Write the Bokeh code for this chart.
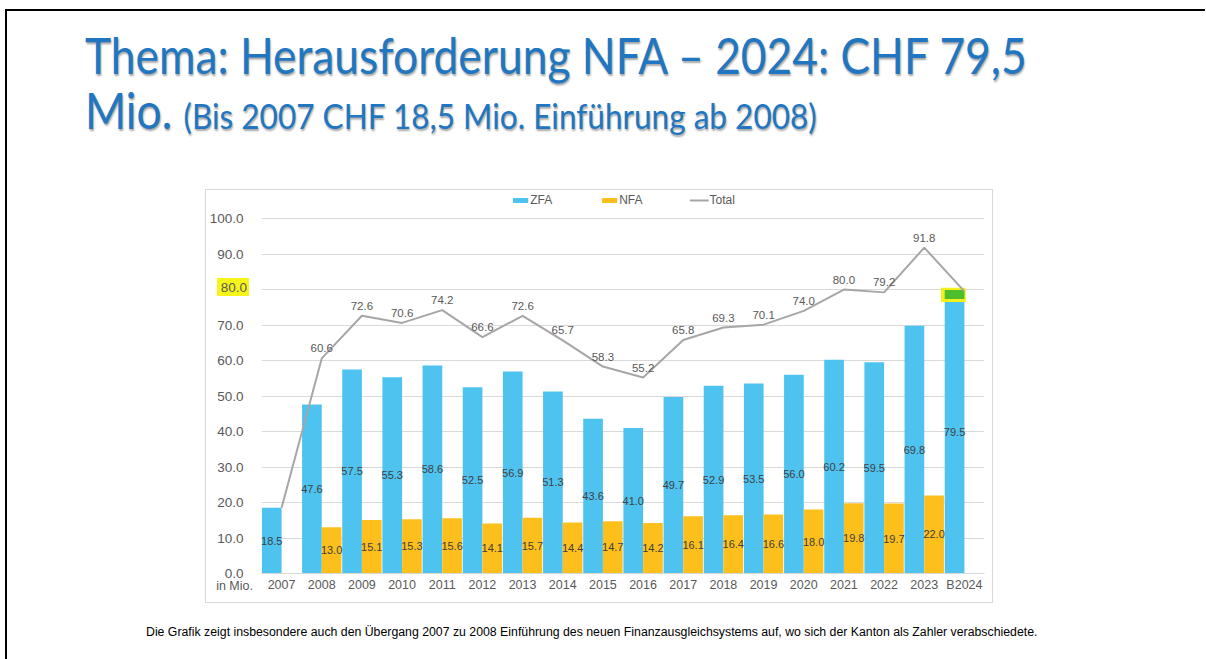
from bokeh.plotting import figure
from bokeh.models import (FactorRange, ColumnDataSource, Legend, LegendItem, Div,
                          Spacer, SingleIntervalTicker, NumeralTickFormatter)
from bokeh.layouts import column, row
from bokeh.transform import dodge
from bokeh.core.properties import value
from bokeh.embed import file_html
from bokeh.resources import INLINE

# ---------------- data ----------------
years = ["2007", "2008", "2009", "2010", "2011", "2012", "2013", "2014", "2015",
         "2016", "2017", "2018", "2019", "2020", "2021", "2022", "2023", "B2024"]
zfa = [18.5, 47.6, 57.5, 55.3, 58.6, 52.5, 56.9, 51.3, 43.6,
       41.0, 49.7, 52.9, 53.5, 56.0, 60.2, 59.5, 69.8, 79.5]
nfa = [None, 13.0, 15.1, 15.3, 15.6, 14.1, 15.7, 14.4, 14.7,
       14.2, 16.1, 16.4, 16.6, 18.0, 19.8, 19.7, 22.0, None]
total = [18.5, 60.6, 72.6, 70.6, 74.2, 66.6, 72.6, 65.7, 58.3,
         55.2, 65.8, 69.3, 70.1, 74.0, 80.0, 79.2, 91.8, 79.5]
total_labelled = [False] + [True] * 16 + [False]
highlight_tick = 80
unit_label = "in Mio."

C_ZFA = "#4ec3f0"
C_NFA = "#fdbf1c"
C_TOT = "#a6a6a6"
C_TXT = "#595959"
FONT = "Liberation Sans"

zsrc = ColumnDataSource(dict(years=years, zfa=zfa, mid=[v / 2 for v in zfa],
                             lbl=[f"{v:.1f}" for v in zfa]))
ny = [y for y, v in zip(years, nfa) if v is not None]
nv = [v for v in nfa if v is not None]
nsrc = ColumnDataSource(dict(years=ny, nfa=nv, mid=[v / 2 for v in nv],
                             lbl=[f"{v:.1f}" for v in nv]))
tsrc = ColumnDataSource(dict(years=years, total=total))
ty = [y for y, f in zip(years, total_labelled) if f]
tv = [v for v, f in zip(total, total_labelled) if f]
tlsrc = ColumnDataSource(dict(years=ty, total=tv, lbl=[f"{v:.1f}" for v in tv]))

last = years[-1]
hsrc = ColumnDataSource(dict(years=[last], top=[zfa[-1] + 1.0], bottom=[zfa[-1] - 3.0]))
gsrc = ColumnDataSource(dict(years=[last], top=[zfa[-1] + 0.4], bottom=[zfa[-1] - 2.2]))

p = figure(x_range=FactorRange(factors=years, range_padding=0), y_range=(0, 107.9),
           width=788, height=414, output_backend="svg", toolbar_location=None,
           min_border_left=48, min_border_right=10, min_border_top=0, min_border_bottom=31)
p.outline_line_color = None
p.background_fill_color = "white"
p.border_fill_color = "white"
p.styles = {"border": "1px solid #d9d9d9"}

W = 0.49
r_z = p.vbar(x=dodge("years", -0.245, range=p.x_range), top="zfa", width=W,
             source=zsrc, fill_color=C_ZFA, line_color=None)
r_n = p.vbar(x=dodge("years", 0.245, range=p.x_range), top="nfa", width=W,
             source=nsrc, fill_color=C_NFA, line_color=None)
p.vbar(x=dodge("years", -0.275, range=p.x_range), top="top", bottom="bottom", width=0.62,
       source=hsrc, fill_color="#f2f21a", line_color=None)
p.vbar(x=dodge("years", -0.245, range=p.x_range), top="top", bottom="bottom", width=W,
       source=gsrc, fill_color="#4cbd2c", line_color=None)

p.text(x=dodge("years", -0.245, range=p.x_range), y="mid", text="lbl", source=zsrc,
       text_font=value(FONT), text_font_size="11px", text_color="#404040",
       text_align="center", text_baseline="middle")
p.text(x=dodge("years", 0.245, range=p.x_range), y="mid", text="lbl", source=nsrc,
       text_font=value(FONT), text_font_size="11px", text_color="#404040",
       text_align="center", text_baseline="middle")

r_t = p.line(x="years", y="total", source=tsrc, line_color=C_TOT, line_width=2)
p.text(x="years", y="total", text="lbl", source=tlsrc, y_offset=-6,
       text_font=value(FONT), text_font_size="11.5px", text_color=C_TXT,
       text_align="center", text_baseline="bottom")

p.xgrid.grid_line_color = None
p.ygrid.grid_line_color = "#d9d9d9"
p.yaxis.ticker = SingleIntervalTicker(interval=10)
p.yaxis.formatter = NumeralTickFormatter(format="0.0")
p.yaxis.major_label_overrides = {highlight_tick: ""}
for ax in (p.xaxis, p.yaxis):
    ax.major_tick_line_color = None
    ax.minor_tick_line_color = None
    ax.major_label_text_font = FONT
    ax.major_label_text_color = C_TXT
p.yaxis.axis_line_color = None
p.yaxis.major_label_text_font_size = "13.5px"
p.yaxis.major_label_standoff = 12
p.xaxis.axis_line_color = "#d9d9d9"
p.xaxis.major_label_text_font_size = "12.5px"
p.xaxis.major_label_standoff = -2

legend = Legend(items=[LegendItem(label="ZFA", renderers=[r_z]),
                       LegendItem(label="NFA", renderers=[r_n]),
                       LegendItem(label="Total", renderers=[r_t])],
                location="top_center", orientation="horizontal",
                label_text_font=FONT, label_text_font_size="12px",
                label_text_color=C_TXT, glyph_width=19, glyph_height=6,
                label_standoff=1, spacing=47, margin=3, padding=2,
                border_line_color=None, background_fill_alpha=0)
p.add_layout(legend)

TSTYLE = ("position:absolute;left:73px;white-space:nowrap;font-family:Lato;"
          "font-size:50px;color:#2176c1;text-shadow:1px 2px 2px rgba(0,0,0,0.35);"
          "transform:scaleX(0.887);transform-origin:left top;")
title_html = f"""
<div style="position:relative;width:1188px;height:168px;">
 <div style="{TSTYLE}top:4px;">Thema: Herausforderung NFA \u2013 2024: CHF 79,5</div>
 <div style="{TSTYLE}top:59px;">Mio. <span style="font-size:35.6px">(Bis 2007 CHF 18,5 Mio. Einf\u00fchrung ab 2008)</span></div>
</div>
"""
title_div = Div(text=title_html, width=1188, height=168)

# caption; also carries two small overlays for the chart's left margin
# (highlighted tick label and the unit label), positioned relative to the chart box
caption_html = f"""
<div style="position:relative;width:1188px;height:46px;overflow:visible;">
 <div style="position:absolute;left:205px;top:-330px;width:32px;height:18px;line-height:16px;
      background:#f5f51a;text-align:right;padding:2px 2px 0 0;box-sizing:border-box;z-index:10;
      font-family:'Liberation Sans';font-size:13.5px;color:{C_TXT};">{highlight_tick:.1f}</div>
 <div style="position:absolute;left:181px;top:-30px;width:60px;line-height:16px;text-align:right;
      z-index:10;font-family:'Liberation Sans';font-size:12.5px;color:{C_TXT};">{unit_label}</div>
 <div style="position:absolute;left:134px;top:16px;white-space:nowrap;font-family:'Liberation Sans';
      font-size:12.3px;color:#000;">Die Grafik zeigt insbesondere auch den \u00dcbergang 2007 zu 2008 Einf\u00fchrung des neuen Finanzausgleichsystems auf, wo sich der Kanton als Zahler verabschiedete.</div>
</div>
"""
caption_div = Div(text=caption_html, width=1188, height=46, styles={"overflow": "visible", "z-index": "5"})

page = column(title_div, row(Spacer(width=198, height=414), p), caption_div,
              styles={"border-top": "2px solid #000", "border-left": "2px solid #000",
                      "margin-top": "9px", "margin-left": "5px"})

open("out.html", "w").write(file_html(page, INLINE))
